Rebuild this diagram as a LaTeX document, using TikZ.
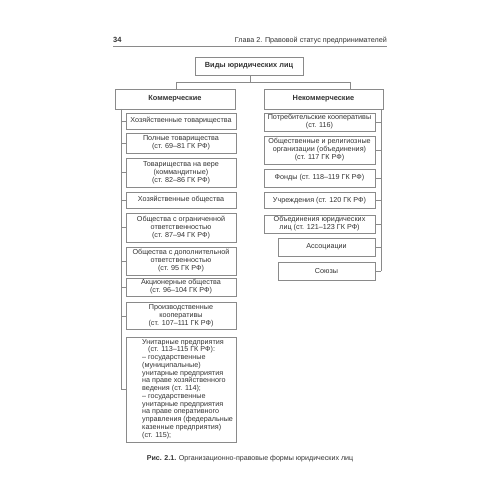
\documentclass[tikz,border=0pt]{standalone}
\usepackage{fontspec}
\setmainfont{Liberation Sans}
\definecolor{txt}{HTML}{333333}
\definecolor{ln}{HTML}{8A8A8A}
\begin{document}
\begin{tikzpicture}[x=1pt,y=-1pt,
  box/.style={draw=ln,line width=0.8pt,inner sep=0pt,align=center,text=txt,
    font=\fontsize{7.2}{8}\selectfont},
  conn/.style={draw=ln,line width=0.8pt},
  lbox/.style={box,minimum width=110pt},
  rbox/.style={box,minimum width=111pt},
  sbox/.style={box,minimum width=97pt}]
\useasboundingbox (0,0) rectangle (500,500);
% header
\node[anchor=base west,inner sep=0pt,text=txt,font=\fontsize{7.5}{9}\selectfont\bfseries] (pg) at (113,43) {34};
\node[anchor=base east,inner sep=0pt,text=txt,font=\fontsize{7.2}{9}\selectfont] (hd) at (387,43) {Глава 2. Правовой статус предпринимателей};
\coordinate (r1) at (113,46.5);
\coordinate (r2) at (387,46.5);
\draw[ln,line width=1.3pt] (r1) -- (r2);
% top
\node[box,minimum width=108pt,minimum height=18pt,font=\fontsize{7.4}{8}\selectfont\bfseries] (top) at (249,66) {Виды юридических лиц};
\node[box,minimum width=120pt,minimum height=20pt,font=\fontsize{7.4}{8}\selectfont\bfseries] (kom) at (175,99) {Коммерческие};
\node[box,minimum width=119pt,minimum height=20pt,font=\fontsize{7.4}{8}\selectfont\bfseries] (nek) at (323.5,99) {Некоммерческие};
\coordinate (j0) at (250,82);
\coordinate (jl) at (176,82);
\coordinate (jr) at (350,82);
\draw[conn] (top.south -| j0) -- (j0);
\draw[conn] (jl) -- (jr);
\draw[conn] (jl) -- (jl |- kom.north);
\draw[conn] (jr) -- (jr |- nek.north);
% left column
\node[lbox,minimum height=16pt] (l1) at (181,121) {Хозяйственные товарищества};
\node[lbox,minimum height=20pt] (l2) at (181,143) {Полные товарищества\\(ст. 69–81 ГК РФ)};
\node[lbox,minimum height=29pt] (l3) at (181,172.5) {Товарищества на вере\\(коммандитные)\\(ст. 82–86 ГК РФ)};
\node[lbox,minimum height=16pt] (l4) at (181,200) {Хозяйственные общества};
\node[lbox,minimum height=29pt] (l5) at (181,227.5) {Общества с ограниченной\\ответственностью\\(ст. 87–94 ГК РФ)};
\node[lbox,minimum height=28pt] (l6) at (181,261) {Общества с дополнительной\\ответственностью\\(ст. 95 ГК РФ)};
\node[lbox,minimum height=18pt] (l7) at (181,287) {Акционерные общества\\(ст. 96–104 ГК РФ)};
\node[lbox,minimum height=27pt] (l8) at (181,316) {Производственные\\кооперативы\\(ст. 107–111 ГК РФ)};
\node[lbox,minimum height=105pt] (l9) at (181,389.5) {};
\node[anchor=north west,inner sep=0pt,align=left,text=txt,font=\fontsize{7.2}{7.75}\selectfont] (l9t) at (142,339) {Унитарные предприятия\\\hspace{6pt}(ст. 113–115 ГК РФ):\\– государственные\\(муниципальные)\\унитарные предприятия\\на праве хозяйственного\\ведения (ст. 114);\\– государственные\\унитарные предприятия\\на праве оперативного\\управления (федеральные\\казенные предприятия)\\(ст. 115);};
\coordinate (lb0) at (121,109);
\coordinate (lb1) at (121,389.5);
\draw[conn] (lb0) -- (lb1);
\foreach \n in {l1,l2,l3,l4,l5,l6,l7,l8,l9}{\draw[conn] (\n.west) -- (\n.west -| lb0);}
% right column
\node[rbox,minimum height=18pt] (r1b) at (319.5,122) {Потребительские кооперативы\\(ст. 116)};
\node[rbox,minimum height=28pt] (r2b) at (319.5,150) {Общественные и религиозные\\организации (объединения)\\(ст. 117 ГК РФ)};
\node[rbox,minimum height=18pt] (r3b) at (319.5,178) {Фонды (ст. 118–119 ГК РФ)};
\node[rbox,minimum height=16pt] (r4b) at (319.5,200.5) {Учреждения (ст. 120 ГК РФ)};
\node[rbox,minimum height=18pt] (r5b) at (319.5,224) {Объединения юридических\\лиц (ст. 121–123 ГК РФ)};
\node[sbox,minimum height=18pt] (r6b) at (326.5,247) {Ассоциации};
\node[sbox,minimum height=18pt] (r7b) at (326.5,271) {Союзы};
\coordinate (rb0) at (381,109);
\coordinate (rb1) at (381,271);
\draw[conn] (rb0) -- (rb1);
\foreach \n in {r1b,r2b,r3b,r4b,r5b,r6b,r7b}{\draw[conn] (\n.east) -- (\n.east -| rb0);}
% caption
\node[anchor=base,inner sep=0pt,text=txt,font=\fontsize{7.1}{9}\selectfont] (cap) at (250,460) {\textbf{Рис. 2.1.} Организационно-правовые формы юридических лиц};
\end{tikzpicture}
\end{document}
